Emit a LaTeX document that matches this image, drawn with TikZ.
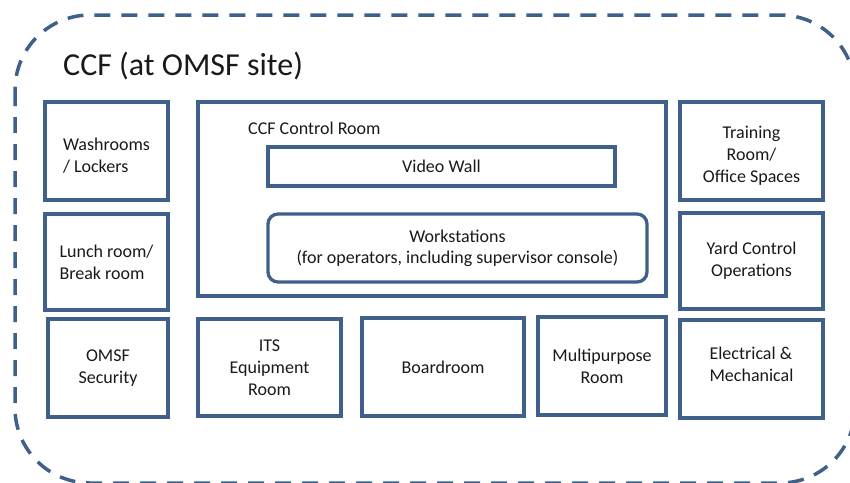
\documentclass[tikz,border=0pt]{standalone}
\usepackage{fontspec}
\setmainfont{Carlito}
\usetikzlibrary{positioning}
\definecolor{wallblue}{RGB}{62,96,138}
\definecolor{ink}{RGB}{25,25,25}
\tikzstyle{room} = [rectangle, draw=wallblue, line width=3.3pt, text=ink, align=center, inner sep=0pt, font=\fontsize{18}{22}\selectfont]
\tikzstyle{fixture} = [rectangle, draw=wallblue, line width=3.3pt, text=ink, align=center, inner sep=0pt, font=\fontsize{18}{21}\selectfont]
\tikzstyle{site} = [draw=wallblue, line width=3.5pt, dash pattern=on 16pt off 11pt, rounded corners=75pt]

\begin{document}
\begin{tikzpicture}[x=1pt,y=-1pt]
\useasboundingbox (0,0) rectangle (850,482);
% site boundary
\draw [site] (15,15) rectangle (855,483);
\node (title) [anchor=base west, text=ink, inner sep=0pt, font=\fontsize{32}{36}\selectfont] at (63,75) {CCF (at OMSF site)};

% left column
\node (wash) [room, minimum width=123pt, minimum height=98pt, align=left] at (106.5,151) {\rule{0pt}{22pt}Washrooms\\/ Lockers};
\node (lunch) [room, minimum width=123pt, minimum height=96pt, align=left] at (106.5,262) {Lunch room/\\Break room};
\node (security) [room, minimum width=120pt, minimum height=98pt] at (108,368) {OMSF\\Security};

% control room and what sits in it
\node (ctrl) [room, minimum width=468pt, minimum height=194pt] at (432,199) {};
\node (ctrllabel) [anchor=base west, text=ink, inner sep=0pt, font=\fontsize{18}{21}\selectfont] at (248,134) {CCF Control Room};
\node (wall) [fixture, minimum width=347pt, minimum height=39pt] at (441.5,166.5) {Video Wall};
\node (desks) [fixture, rounded corners=10pt, minimum width=379pt, minimum height=68pt] at (457.5,248) {Workstations\\(for operators, including supervisor console)};

% bottom row
\node (its) [room, minimum width=143pt, minimum height=97pt] at (269.5,367.5) {ITS\\Equipment\\Room};
\node (board) [room, minimum width=162pt, minimum height=98pt] at (443,367) {Boardroom};
\node (multi) [room, minimum width=128pt, minimum height=98pt] at (602,366) {Multipurpose\\Room};

% right column
\node (training) [room, minimum width=143pt, minimum height=98pt] at (751.5,151) {\rule{0pt}{22pt}Training\\Room/\\Office Spaces};
\node (yard) [room, minimum width=143pt, minimum height=96pt] at (751.5,261) {Yard Control\\Operations};
\node (elec) [room, minimum width=143pt, minimum height=98pt, align=left] at (751.5,369) {Electrical \&\\Mechanical\rule[-10pt]{0pt}{10pt}\hspace{12pt}};
\end{tikzpicture}
\end{document}
